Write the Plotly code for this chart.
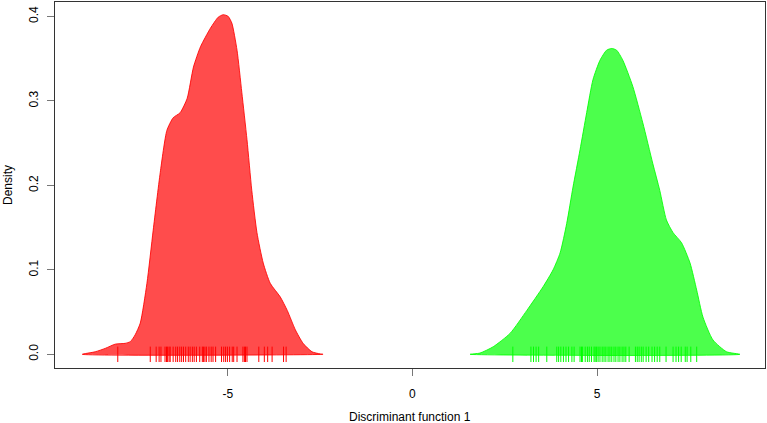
import plotly.graph_objects as go

# Density curve for group 1 (red)
red_x = [-8.94, -8.59, -8.32, -8.05, -7.78, -7.64, -7.51, -7.37, -7.19, -7.02, -6.83, -6.65,
         -6.48, -6.29, -6.10, -5.93, -5.74, -5.47, -5.26, -5.12, -4.99, -4.89, -4.75, -4.62,
         -4.48, -4.35, -4.21, -4.04, -3.85, -3.58, -3.39, -3.17, -2.96, -2.72, -2.50, -2.42]
red_y = [0.0, 0.003, 0.007, 0.012, 0.013, 0.015, 0.023, 0.037, 0.084, 0.147, 0.215, 0.265,
         0.280, 0.286, 0.303, 0.340, 0.364, 0.386, 0.399, 0.402, 0.400, 0.392, 0.360, 0.310,
         0.254, 0.194, 0.144, 0.108, 0.084, 0.068, 0.052, 0.029, 0.013, 0.003, 0.0005, 0.0]

# Density curve for group 2 (green)
green_x = [1.56, 1.83, 2.19, 2.65, 3.10, 3.54, 3.81, 4.00, 4.18, 4.35, 4.54, 4.72, 4.89, 5.08,
           5.26, 5.40, 5.53, 5.70, 5.97, 6.24, 6.51, 6.70, 6.88, 7.06, 7.29, 7.52, 7.70, 7.87,
           8.14, 8.51, 8.87]
green_y = [0.0, 0.0015, 0.009, 0.025, 0.052, 0.080, 0.100, 0.120, 0.155, 0.198, 0.242, 0.286,
           0.325, 0.348, 0.360, 0.362, 0.360, 0.348, 0.317, 0.274, 0.226, 0.194, 0.159, 0.144,
           0.132, 0.108, 0.076, 0.044, 0.017, 0.003, 0.0]

# Individual scores (rug)
red_rug = [-7.98, -7.10, -6.94, -6.86, -6.81, -6.70, -6.66, -6.63, -6.59, -6.56, -6.48, -6.41,
           -6.36, -6.30, -6.25, -6.20, -6.14, -6.07, -6.02, -5.96, -5.91, -5.85, -5.76, -5.69,
           -5.66, -5.62, -5.58, -5.51, -5.45, -5.40, -5.33, -5.17, -5.11, -5.06, -5.01, -4.95,
           -4.88, -4.84, -4.75, -4.59, -4.55, -4.52, -4.48, -4.16, -4.01, -3.92, -3.80, -3.49,
           -3.42]
green_rug = [2.72, 3.21, 3.28, 3.35, 3.42, 3.64, 3.91, 3.96, 4.02, 4.09, 4.16, 4.23, 4.32, 4.38,
             4.54, 4.58, 4.61, 4.68, 4.74, 4.79, 4.85, 4.92, 4.95, 4.99, 5.03, 5.08, 5.14, 5.19,
             5.24, 5.30, 5.35, 5.40, 5.46, 5.51, 5.57, 5.62, 5.68, 5.73, 5.78, 5.87, 6.04, 6.09,
             6.14, 6.20, 6.25, 6.33, 6.40, 6.49, 6.56, 6.63, 6.70, 6.87, 7.06, 7.14, 7.21, 7.28,
             7.39, 7.44, 7.54, 7.70]

x_ticks = [-5, 0, 5]
x_tick_labels = ["-5", "0", "5"]
y_ticks = [0.0, 0.1, 0.2, 0.3, 0.4]
y_tick_labels = ["0.0", "0.1", "0.2", "0.3", "0.4"]

FONT = "Liberation Sans"

fig = go.Figure()

for xs, ys, fillc, linec in [
    (red_x, red_y, "rgba(255,0,0,0.7)", "rgba(255,0,0,0.85)"),
    (green_x, green_y, "rgba(0,255,0,0.7)", "rgba(0,255,0,0.85)"),
]:
    fig.add_trace(go.Scatter(
        x=xs + [xs[0]], y=ys + [ys[0]], mode="lines", fill="toself",
        fillcolor=fillc, line=dict(color=linec, width=1, shape="spline", smoothing=0.6),
        hoverinfo="skip", showlegend=False))

for rug, col in [(red_rug, "#ff0000"), (green_rug, "#00ff00")]:
    fig.add_trace(go.Scatter(
        x=rug, y=[0] * len(rug), mode="markers",
        marker=dict(symbol="line-ns", size=11, line=dict(color=col, width=1)),
        hoverinfo="skip", showlegend=False))

fig.update_layout(
    width=767, height=423,
    margin=dict(l=55, r=2, t=2, b=55),
    paper_bgcolor="white", plot_bgcolor="white",
    font=dict(family=FONT, size=12, color="black"),
    xaxis=dict(range=[-9.68, 9.55], tickvals=x_ticks, ticktext=x_tick_labels,
               showgrid=False, zeroline=False, showline=True, mirror=True,
               linecolor="#333", linewidth=1, ticks="outside", ticklen=7,
               tickcolor="#777", ticklabelstandoff=8, automargin=False),
    yaxis=dict(range=[-0.0162, 0.417], tickvals=y_ticks, ticktext=y_tick_labels,
               showgrid=False, zeroline=False, showline=True, mirror=True,
               linecolor="#333", linewidth=1, ticks="outside", ticklen=7,
               tickcolor="#777", tickangle=-90, ticklabelstandoff=4, automargin=False),
    annotations=[
        dict(text="Discriminant function 1", xref="paper", yref="paper", x=0.5, y=0,
             yanchor="middle", xanchor="center", yshift=-49, showarrow=False,
             font=dict(family=FONT, size=12)),
        dict(text="Density", xref="paper", yref="paper", x=0, y=0.5, textangle=-90,
             xanchor="center", yanchor="middle", xshift=-47, showarrow=False,
             font=dict(family=FONT, size=12)),
    ],
)

fig.write_html("out.html", config={"displayModeBar": False},
               post_script="document.body.style.margin='0';")
